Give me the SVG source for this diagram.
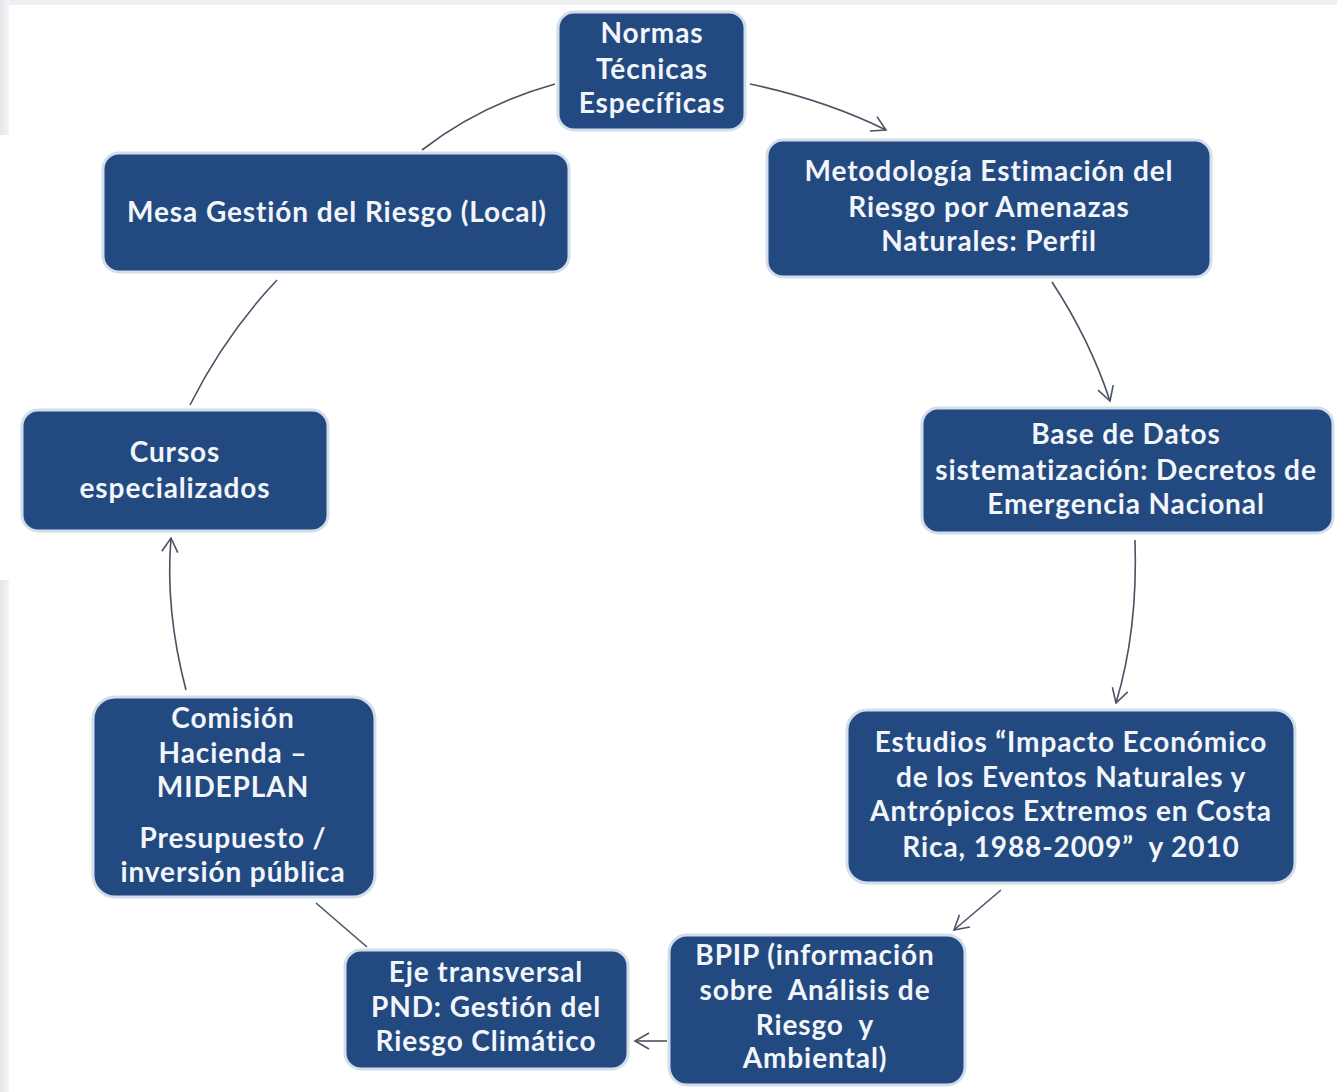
<svg xmlns="http://www.w3.org/2000/svg" width="1337" height="1092" viewBox="0 0 1337 1092">
<defs>
<style>
.box{fill:#224a80;stroke:#d3deec;stroke-width:3}
.t{font-family:Lato,"Open Sans","Liberation Sans",sans-serif;font-weight:bold;font-size:28px;letter-spacing:0.9px;fill:#f2f5fa;text-anchor:middle}
.c{fill:none;stroke:#4b5263;stroke-width:1.6}
</style>
<marker id="ah" viewBox="0 0 20 20" refX="18" refY="10" markerWidth="20" markerHeight="20" markerUnits="userSpaceOnUse" orient="auto">
<path d="M4,2 L18,10 L4,18" fill="none" stroke="#4b5263" stroke-width="1.6"/>
</marker>
<linearGradient id="lg" x1="0" y1="0" x2="1" y2="0">
<stop offset="0" stop-color="#e4e6ea"/>
<stop offset="1" stop-color="#f4f5f7"/>
</linearGradient>
</defs>
<rect width="1337" height="1092" fill="#ffffff"/>
<rect x="0" y="0" width="1337" height="5" fill="#eeeff1"/>
<rect x="0" y="0" width="9" height="135" fill="url(#lg)"/>
<rect x="0" y="580" width="9" height="512" fill="url(#lg)"/>
<g id="connectors">
<path class="c" d="M422,150 Q480,105 555,84"/>
<path class="c" d="M750,84 Q825,100 886,130" marker-end="url(#ah)"/>
<path class="c" d="M1052,282 Q1090,340 1110,401" marker-end="url(#ah)"/>
<path class="c" d="M1135,540 Q1138,630 1116,703" marker-end="url(#ah)"/>
<path class="c" d="M1001,890 L954,930" marker-end="url(#ah)"/>
<path class="c" d="M667,1041 L635,1041" marker-end="url(#ah)"/>
<path class="c" d="M367,947 L316,903"/>
<path class="c" d="M186,690 Q165,610 171,538" marker-end="url(#ah)"/>
<path class="c" d="M190,405 Q225,335 277,280"/>
</g>
<g id="n1"><rect class="box" x="558" y="12" width="187" height="118" rx="16"/>
<text class="t" x="652" y="43">Normas</text><text class="t" x="652" y="79">Técnicas</text><text class="t" x="652" y="113">Específicas</text></g>
<g id="n2"><rect class="box" x="767" y="140" width="444" height="137" rx="16"/>
<text class="t" x="989" y="181">Metodología Estimación del</text><text class="t" x="989" y="217">Riesgo por Amenazas</text><text class="t" x="989" y="251">Naturales: Perfil</text></g>
<g id="n3"><rect class="box" x="103" y="153" width="466" height="119" rx="16"/>
<text class="t" x="337" y="222">Mesa Gestión del Riesgo (Local)</text></g>
<g id="n4"><rect class="box" x="922" y="408" width="411" height="125" rx="16"/>
<text class="t" x="1126" y="444">Base de Datos</text><text class="t" x="1126" y="480">sistematización: Decretos de</text><text class="t" x="1126" y="514">Emergencia Nacional</text></g>
<g id="n5"><rect class="box" x="22" y="410" width="306" height="121" rx="16"/>
<text class="t" x="175" y="462">Cursos</text><text class="t" x="175" y="498">especializados</text></g>
<g id="n6"><rect class="box" x="93" y="697" width="282" height="200" rx="22"/>
<text class="t" x="233" y="728">Comisión</text><text class="t" x="233" y="763">Hacienda –</text><text class="t" x="233" y="797">MIDEPLAN</text><text class="t" x="233" y="848">Presupuesto /</text><text class="t" x="233" y="882">inversión pública</text></g>
<g id="n7"><rect class="box" x="847" y="710" width="448" height="173" rx="20"/>
<text class="t" x="1071" y="752">Estudios “Impacto Económico</text><text class="t" x="1071" y="787">de los Eventos Naturales y</text><text class="t" x="1071" y="821">Antrópicos Extremos en Costa</text><text class="t" x="1071" y="857" xml:space="preserve">Rica, 1988-2009”  y 2010</text></g>
<g id="n8"><rect class="box" x="669" y="935" width="296" height="150" rx="18"/>
<text class="t" x="815" y="965">BPIP (información</text><text class="t" x="815" y="1000" xml:space="preserve">sobre  Análisis de</text><text class="t" x="815" y="1035" xml:space="preserve">Riesgo  y</text><text class="t" x="815" y="1068">Ambiental)</text></g>
<g id="n9"><rect class="box" x="345" y="950" width="283" height="119" rx="16"/>
<text class="t" x="486" y="982">Eje transversal</text><text class="t" x="486" y="1017">PND: Gestión del</text><text class="t" x="486" y="1051">Riesgo Climático</text></g>
</svg>
